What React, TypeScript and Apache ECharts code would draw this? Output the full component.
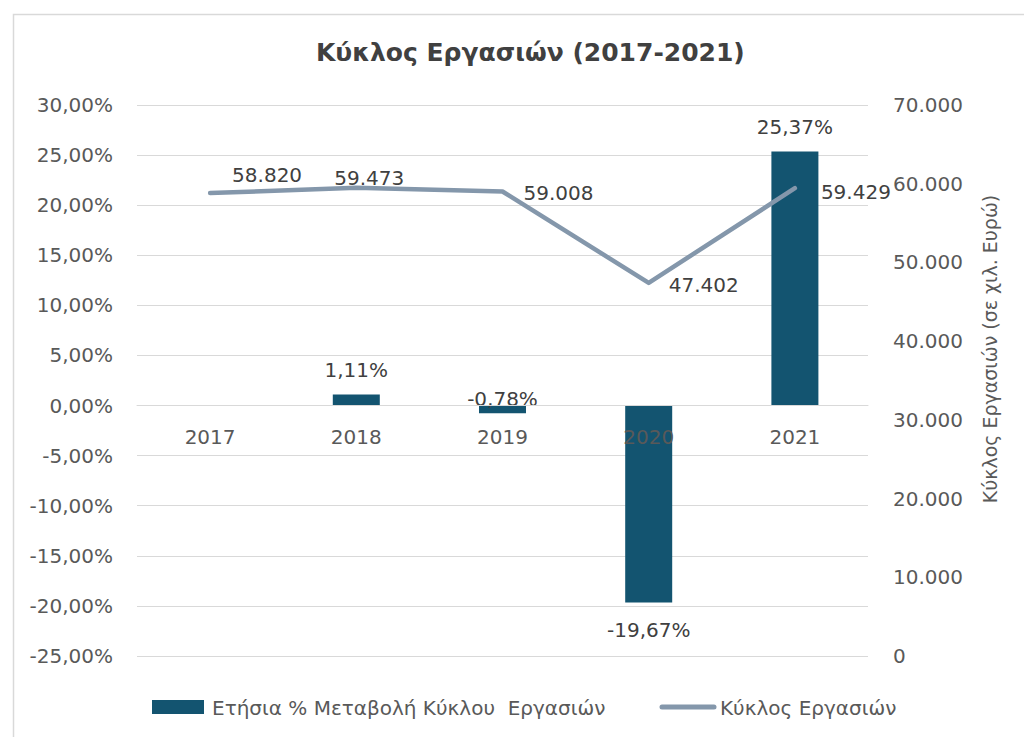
import React, { useEffect, useRef } from "react";
import * as echarts from "echarts";

const years = ["2017", "2018", "2019", "2020", "2021"];
const changePct = [null, 1.11, -0.78, -19.67, 25.37];
const turnover = [58820, 59473, 59008, 47402, 59429];
const barName = "Ετήσια % Μεταβολή Κύκλου  Εργασιών";
const lineName = "Κύκλος Εργασιών";
const titleText = "Κύκλος Εργασιών (2017-2021)";
const rightAxisName = "Κύκλος Εργασιών (σε χιλ. Ευρώ)";

const FONT = "DejaVu Sans";
const TXT = "#595959";
const DARK = "#404040";
const BAR = "#135470";
const LINE = "#8497AB";
const FS = 20;

const fmtPct = (v: number) => v.toFixed(2).replace(".", ",") + "%";
const fmtThousands = (v: number) =>
  v === 0 ? "0" : String(Math.round(v)).replace(/\B(?=(\d{3})+(?!\d))/g, ".");

const barLabelCfg: any[] = [
  null,
  { position: "top", distance: 14, offset: [0, 0] },
  { position: "top", distance: 0, offset: [0, 3] },
  { position: "bottom", distance: 14, offset: [0, 3] },
  { position: "top", distance: 14, offset: [0, 0] },
];
const lineLabelOffsets: number[][] = [
  [1, -18],
  [-43, -10],
  [0, 1],
  [-1, 2],
  [5, 4],
];

// grid geometry
const GRID_TOP = 105;
const GRID_BOTTOM = 81;
const CHART_H = 737;
const Y_MIN = -25;
const Y_MAX = 30;

export default function App() {
  const ref = useRef<HTMLDivElement>(null);
  useEffect(() => {
    document.body.style.margin = "0";
    const chart = echarts.init(ref.current!, undefined, { renderer: "svg" });
    const plotH = CHART_H - GRID_TOP - GRID_BOTTOM;
    const zeroFromBottom = (plotH * (0 - Y_MIN)) / (Y_MAX - Y_MIN);
    const option: any = {
      animation: false,
      backgroundColor: "#ffffff",
      textStyle: { fontFamily: FONT },
      title: {
        text: titleText,
        left: 311,
        top: 35,
        textStyle: { fontFamily: FONT, fontSize: 25, fontWeight: "bold", color: DARK },
      },
      grid: { left: 137, right: 156, top: GRID_TOP, bottom: GRID_BOTTOM, containLabel: false },
      xAxis: {
        type: "category",
        data: years,
        z: 10,
        position: "bottom",
        offset: -zeroFromBottom,
        axisLine: { show: true, onZero: false, lineStyle: { color: "#D9D9D9", width: 1 } },
        axisTick: { show: false },
        axisLabel: { color: TXT, fontSize: FS, fontFamily: FONT, margin: 21 },
      },
      yAxis: [
        {
          type: "value",
          min: Y_MIN,
          max: Y_MAX,
          interval: 5,
          axisLine: { show: false },
          axisTick: { show: false },
          splitLine: { lineStyle: { color: "#D9D9D9", width: 1 } },
          axisLabel: { color: TXT, fontSize: FS, fontFamily: FONT, margin: 24, formatter: fmtPct },
        },
        {
          type: "value",
          min: 0,
          max: 70000,
          interval: 10000,
          axisLine: { show: false },
          axisTick: { show: false },
          splitLine: { show: false },
          axisLabel: { color: TXT, fontSize: FS, fontFamily: FONT, margin: 25, formatter: fmtThousands },
        },
      ],
      series: [
        {
          name: barName,
          type: "bar",
          yAxisIndex: 0,
          barWidth: 47,
          itemStyle: { color: BAR },
          data: changePct.map((v, i) =>
            v === null
              ? null
              : {
                  value: v,
                  label: {
                    show: true,
                    position: barLabelCfg[i].position,
                    distance: barLabelCfg[i].distance,
                    offset: barLabelCfg[i].offset,
                    formatter: () => fmtPct(v),
                    color: DARK,
                    fontSize: FS,
                    fontFamily: FONT,
                  },
                }
          ),
        },
        {
          name: lineName,
          type: "line",
          yAxisIndex: 1,
          z: 3,
          symbol: "circle",
          symbolSize: 2,
          showSymbol: true,
          itemStyle: { color: "rgba(0,0,0,0)" },
          lineStyle: { color: LINE, width: 4.5, cap: "round", join: "round" },
          data: turnover.map((v, i) => ({
            value: v,
            label: {
              show: true,
              position: "right",
              distance: 20,
              offset: lineLabelOffsets[i],
              formatter: () => fmtThousands(v),
              color: DARK,
              fontSize: FS,
              fontFamily: FONT,
            },
          })),
        },
      ],
      graphic: [
        {
          type: "rect",
          left: 11,
          top: 12,
          shape: { x: 0, y: 0, width: 1040, height: 760 },
          style: { fill: "none", stroke: "#D9D9D9", lineWidth: 1.5 },
          silent: true,
        },
        {
          type: "text",
          x: 990,
          y: 349,
          rotation: Math.PI / 2,
          style: {
            text: rightAxisName,
            fill: TXT,
            font: `19px '${FONT}'`,
            align: "center",
            verticalAlign: "middle",
          },
        },
        {
          type: "rect",
          shape: { x: 152, y: 700, width: 52, height: 14 },
          style: { fill: BAR },
        },
        {
          type: "text",
          x: 212,
          y: 708,
          style: { text: barName, fill: TXT, font: `${FS}px '${FONT}'`, verticalAlign: "middle" },
        },
        {
          type: "line",
          shape: { x1: 662, y1: 707, x2: 714, y2: 707 },
          style: { stroke: LINE, lineWidth: 5, lineCap: "round" },
        },
        {
          type: "text",
          x: 720,
          y: 708,
          style: { text: lineName, fill: TXT, font: `${FS}px '${FONT}'`, verticalAlign: "middle" },
        },
      ],
    };
    chart.setOption(option);
    return () => chart.dispose();
  }, []);
  return <div ref={ref} style={{ width: 1024, height: 737 }} />;
}
